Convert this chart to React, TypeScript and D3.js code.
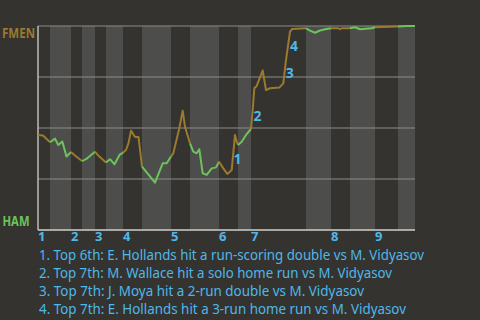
import React from "react";
import * as d3 from "d3";

const halfInningEnds = [0, 12, 33, 44, 57, 68, 85, 104, 133, 152, 181, 200, 213, 268, 293, 312, 337, 360, 377];
const inningLabels = ["1", "2", "3", "4", "5", "6", "7", "8", "9"];

const progress = [0, 5, 12, 17, 20.3, 24.3, 28.5, 33, 37, 44, 48, 57, 59.7, 68, 72, 76.5, 81.5, 85, 88, 90.5, 93, 97, 100.5, 104, 117, 124.7, 128.7, 133, 135.3, 141.3, 144.7, 147, 152, 155.3, 158.7, 161.3, 164.7, 168.7, 173.7, 178, 181, 185.3, 189.3, 193.7, 197, 198.7, 200, 203.7, 208, 213, 214.7, 216.3, 218.7, 224.7, 228, 232, 241.3, 245.3, 248, 252, 254, 268, 272, 277, 282, 287, 293, 300.3, 302, 303.7, 312, 317, 322, 333.7, 337, 360, 368.7, 377];
const fmenWinProb = [0.466, 0.463, 0.43, 0.448, 0.417, 0.434, 0.36, 0.382, 0.365, 0.338, 0.347, 0.384, 0.368, 0.331, 0.347, 0.322, 0.368, 0.379, 0.392, 0.426, 0.487, 0.456, 0.456, 0.311, 0.232, 0.327, 0.327, 0.36, 0.376, 0.499, 0.585, 0.506, 0.425, 0.384, 0.376, 0.396, 0.278, 0.27, 0.302, 0.307, 0.335, 0.302, 0.275, 0.294, 0.466, 0.433, 0.417, 0.433, 0.466, 0.495, 0.588, 0.695, 0.706, 0.782, 0.686, 0.695, 0.698, 0.719, 0.833, 0.972, 0.985, 0.989, 0.977, 0.967, 0.978, 0.984, 0.989, 0.989, 0.984, 0.989, 0.989, 0.994, 0.984, 0.989, 0.994, 0.997, 1.0, 1.0];

const annotationNums = ["1", "2", "3", "4"];
const annotationX = [195.5, 215.5, 247.7, 252];
const annotationP = [0.324, 0.536, 0.744, 0.877];
const annotationTexts = [
  "1. Top 6th: E. Hollands hit a run-scoring double vs M. Vidyasov",
  "2. Top 7th: M. Wallace hit a solo home run vs M. Vidyasov",
  "3. Top 7th: J. Moya hit a 2-run double vs M. Vidyasov",
  "4. Top 7th: E. Hollands hit a 3-run home run vs M. Vidyasov",
];
const annotationWidths = [385, 353, 325, 367];

const gridProbs = [0.25, 0.5, 0.75, 1.0];
const teams = ["FMEN", "HAM"];

const BG = "#35332f";
const BAND = "#4d4d4b";
const GOLD = "#9a7a2e";
const GREEN = "#6cc35b";
const BLUE = "#4db8ea";
const FONT = "'Noto Sans', 'Open Sans', sans-serif";

export default function App() {
  const W = 480, H = 320;
  const x = d3.scaleLinear().domain([0, 377]).range([38, 415]);
  const y = d3.scaleLinear().domain([0, 1]).range([230, 26]);
  const line = d3.line<[number, number]>().x((d) => x(d[0])).y((d) => y(d[1]));
  const pts: [number, number][] = progress.map((p, i) => [p, fmenWinProb[i]]);

  const halves = d3.range(halfInningEnds.length - 1).map((i) => ({
    i,
    a: halfInningEnds[i],
    b: halfInningEnds[i + 1],
  }));

  return (
    <svg width={W} height={H} style={{ position: "absolute", left: 0, top: 0 }} fontFamily={FONT}>
      <rect x={0} y={0} width={W} height={H} fill={BG} />
      {halves.filter((h) => h.i % 2 === 1).map((h) => (
        <rect key={"b" + h.i} x={x(h.a)} y={y(1)} width={x(h.b) - x(h.a)} height={y(0) - y(1)} fill={BAND} />
      ))}
      {gridProbs.map((g) => (
        <line key={"g" + g} x1={x(0)} x2={x(377)} y1={y(g)} y2={y(g)} stroke="#8c8c8a" strokeWidth={1} />
      ))}
      <line x1={x(0)} x2={x(0)} y1={y(1)} y2={y(0)} stroke="#cfcfcd" strokeWidth={1.3} />
      <line x1={x(0)} x2={x(377)} y1={y(0)} y2={y(0)} stroke="#cfcfcd" strokeWidth={1.5} />
      {halves.map((h) => (
        <path
          key={"s" + h.i}
          d={line(pts.filter((p) => p[0] >= h.a && p[0] <= h.b)) || ""}
          fill="none"
          stroke={h.i % 2 === 0 ? GOLD : GREEN}
          strokeWidth={2}
          strokeLinejoin="round"
        />
      ))}
      {annotationNums.map((n, i) => (
        <text key={"an" + i} x={x(annotationX[i])} y={y(annotationP[i])} fill={BLUE} fontSize={14} fontWeight="bold">
          {n}
        </text>
      ))}
      {inningLabels.map((l, i) => (
        <text key={"in" + i} x={x(halfInningEnds[i * 2])} y={240.5} fill={BLUE} fontSize={13} fontWeight="bold">
          {l}
        </text>
      ))}
      <text x={2} y={38} fill={GOLD} fontSize={14} fontWeight="bold" textLength={33} lengthAdjust="spacingAndGlyphs">
        {teams[0]}
      </text>
      <text x={2.5} y={226} fill={GREEN} fontSize={14} fontWeight="bold" textLength={27} lengthAdjust="spacingAndGlyphs">
        {teams[1]}
      </text>
      {annotationTexts.map((t, i) => (
        <text
          key={"t" + i}
          x={39}
          y={259.5 + i * 18}
          fill={BLUE}
          fontSize={14}
          textLength={annotationWidths[i]}
          lengthAdjust="spacingAndGlyphs"
        >
          {t}
        </text>
      ))}
    </svg>
  );
}
